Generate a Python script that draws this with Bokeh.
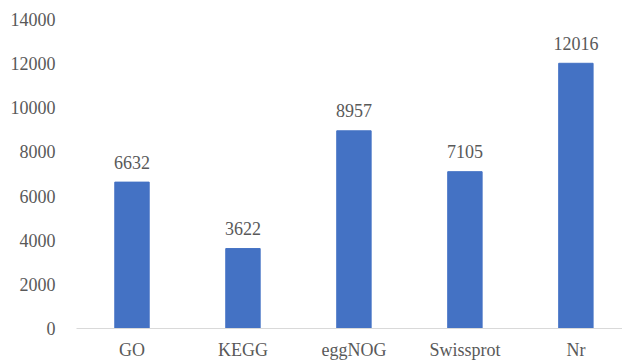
from bokeh.plotting import figure
from bokeh.models import Range1d, FixedTicker, ColumnDataSource
from bokeh.core.properties import value
from bokeh.embed import file_html
from bokeh.resources import INLINE

categories = ["GO", "KEGG", "eggNOG", "Swissprot", "Nr"]
counts = [6632, 3622, 8957, 7105, 12016]
y_ticks = [0, 2000, 4000, 6000, 8000, 10000, 12000, 14000]

xs = list(range(len(categories)))
src = ColumnDataSource(dict(x=xs, top=counts, label=[str(c) for c in counts]))

FONT = "Liberation Serif"
GREY = "#595959"

p = figure(width=622, height=362, output_backend="svg", toolbar_location=None,
           x_range=Range1d(-0.5, 4.42), y_range=Range1d(0, 14000),
           min_border_left=76, min_border_right=0, min_border_top=19, min_border_bottom=34)
p.outline_line_color = None
p.background_fill_color = "white"
p.border_fill_color = "white"
p.xgrid.visible = False
p.ygrid.visible = False

p.vbar(x="x", top="top", width=0.31, source=src, color="#4472C4")
p.text(x="x", y="top", text="label", source=src, text_align="center",
       text_baseline="alphabetic", y_offset=-20, text_font=value(FONT),
       text_font_size="18px", text_color=GREY)

p.yaxis.ticker = FixedTicker(ticks=y_ticks)
p.yaxis.axis_line_color = None
p.yaxis.major_tick_line_color = None
p.yaxis.minor_tick_line_color = None
p.yaxis.major_label_text_font = FONT
p.yaxis.major_label_text_font_size = "18px"
p.yaxis.major_label_text_color = GREY
p.yaxis.major_label_standoff = 15

p.xaxis.ticker = FixedTicker(ticks=xs)
p.xaxis.major_label_overrides = {i: c for i, c in enumerate(categories)}
p.xaxis.axis_line_color = "#d9d9d9"
p.xaxis.axis_line_width = 1
p.xaxis.major_tick_line_color = None
p.xaxis.minor_tick_line_color = None
p.xaxis.major_label_text_font = FONT
p.xaxis.major_label_text_font_size = "18px"
p.xaxis.major_label_text_color = GREY
p.xaxis.major_label_standoff = 5

open("out.html", "w").write(file_html(p, INLINE))
